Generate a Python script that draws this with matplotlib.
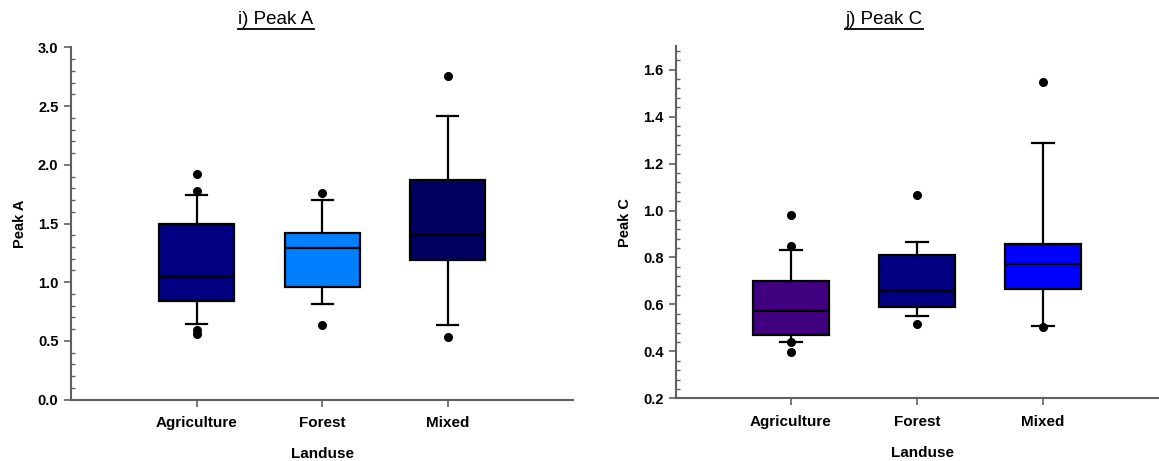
import numpy as np
import matplotlib.pyplot as plt
from matplotlib.lines import Line2D
from matplotlib.ticker import MultipleLocator

plt.rcParams['font.family'] = ['Liberation Sans', 'DejaVu Sans']

landuse = ['Agriculture', 'Forest', 'Mixed']

# Peak A box statistics (q1, median, q3, whisker low, whisker high) and outliers
peakA_q1 = [0.84, 0.956, 1.192]
peakA_med = [1.042, 1.294, 1.399]
peakA_q3 = [1.496, 1.419, 1.868]
peakA_lo = [0.647, 0.815, 0.636]
peakA_hi = [1.743, 1.697, 2.415]
peakA_out = [[1.919, 1.774, 0.593, 0.559], [1.763, 0.636], [2.756, 0.536]]
peakA_col = ['#000080', '#0080FF', '#000060']

# Peak C
peakC_q1 = [0.471, 0.588, 0.664]
peakC_med = [0.571, 0.656, 0.772]
peakC_q3 = [0.698, 0.811, 0.857]
peakC_lo = [0.441, 0.549, 0.510]
peakC_hi = [0.833, 0.864, 1.289]
peakC_out = [[0.980, 0.847, 0.441, 0.399], [1.065, 0.515], [1.547, 0.504]]
peakC_col = ['#400080', '#000080', '#0000FF']

W, H = 1159, 461
fig = plt.figure(figsize=(W / 100, H / 100), dpi=100)


def px_axes(x0, y_top, x1, y_bot):
    return fig.add_axes([x0 / W, 1 - y_bot / H, (x1 - x0) / W, (y_bot - y_top) / H])


def draw_panel(ax, q1, med, q3, lo, hi, out, cols, ylim, major, minor, ylabel):
    stats = []
    for i in range(3):
        stats.append(dict(q1=q1[i], med=med[i], q3=q3[i], whislo=lo[i],
                          whishi=hi[i], fliers=out[i]))
    bp = ax.bxp(stats, positions=[1, 2, 3], widths=0.6, capwidths=0.17,
                patch_artist=True, showfliers=True,
                boxprops=dict(edgecolor='black', linewidth=1.6),
                medianprops=dict(color='black', linewidth=1.6),
                whiskerprops=dict(color='black', linewidth=1.6),
                capprops=dict(color='black', linewidth=1.6),
                flierprops=dict(marker='o', markerfacecolor='black',
                                markeredgecolor='black', markersize=5.5))
    for patch, c in zip(bp['boxes'], cols):
        patch.set_facecolor(c)
    ax.set_ylim(*ylim)
    ax.yaxis.set_major_locator(MultipleLocator(major))
    ax.yaxis.set_minor_locator(MultipleLocator(minor))
    ax.set_xticks([1, 2, 3])
    ax.set_xticklabels(landuse)
    for s in ['top', 'right']:
        ax.spines[s].set_visible(False)
    for s in ['left', 'bottom']:
        ax.spines[s].set_color('#606060')
        ax.spines[s].set_linewidth(1.5)
    ax.tick_params(axis='both', which='major', direction='out', length=5,
                   width=1.2, color='#606060', pad=4)
    ax.tick_params(axis='y', which='major', labelsize=10.5)
    ax.tick_params(axis='x', which='major', labelsize=11, pad=7)
    ax.tick_params(axis='y', which='minor', direction='in', length=3,
                   width=1.0, color='#606060')
    for lab in ax.get_xticklabels() + ax.get_yticklabels():
        lab.set_fontweight('bold')
    ax.set_xlabel('Landuse', fontsize=11, fontweight='bold', labelpad=12)
    ax.set_ylabel(ylabel, fontsize=10.5, fontweight='bold', labelpad=8)


axA = px_axes(71, 47.3, 573.4, 399.7)
axA.set_xlim(0, 4)
draw_panel(axA, peakA_q1, peakA_med, peakA_q3, peakA_lo, peakA_hi, peakA_out,
           peakA_col, (0, 3.0), 0.5, 0.1, 'Peak A')

axC = px_axes(676.2, 46.2, 1168.9, 398.3)
axC.set_xlim(0.09, 4.0)
draw_panel(axC, peakC_q1, peakC_med, peakC_q3, peakC_lo, peakC_hi, peakC_out,
           peakC_col, (0.2, 1.7), 0.2, 0.04, 'Peak C')

# underlined panel titles
renderer = fig.canvas.get_renderer()
for title, xc in [('i) Peak A', 276), ('j) Peak C', 884)]:
    t = fig.text(xc / W, 1 - 19 / H, title, fontsize=13.5, ha='center', va='center')
    bb = t.get_window_extent(renderer)
    yl = (bb.y0 - 1.5) / H
    fig.add_artist(Line2D([bb.x0 / W, bb.x1 / W], [yl, yl], color='black',
                          linewidth=1.3, transform=fig.transFigure))

fig.savefig('out.png', dpi=100)
